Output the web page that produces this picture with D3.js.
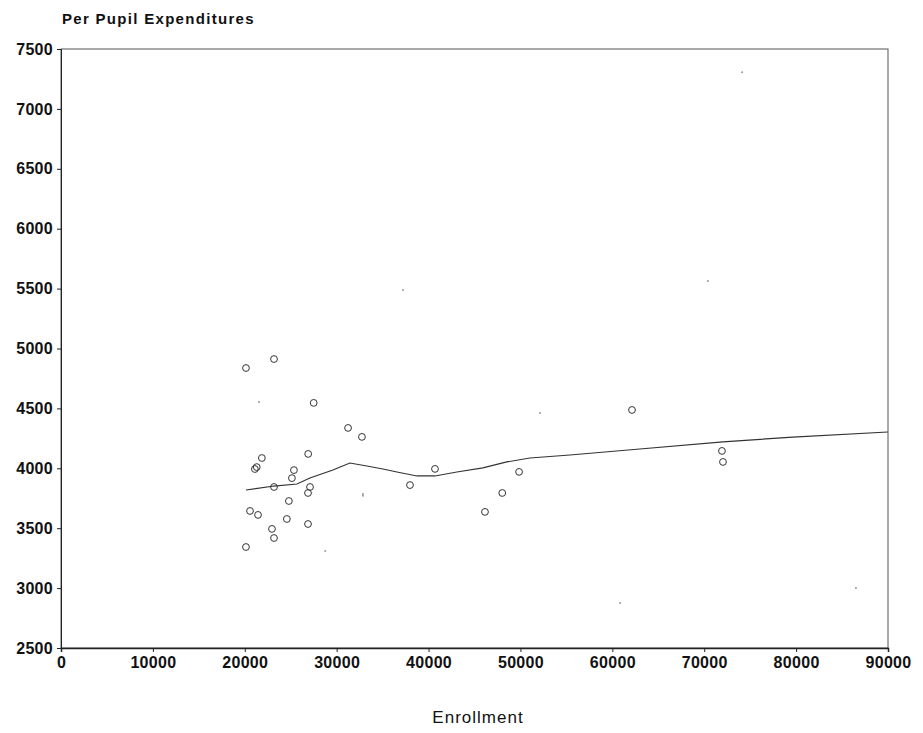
<!DOCTYPE html>
<html>
<head>
<meta charset="utf-8">
<script src="https://cdn.jsdelivr.net/npm/d3@7"></script>
<style>
  body { margin: 0; background: #fff; }
  text { font-family: "Liberation Sans", Arial, sans-serif; fill: #111; }
</style>
</head>
<body>
<div id="main"></div>
<script>
// enrollment / per pupil expenditure
const enrollment = [20130, 23180, 27500, 32750, 31240, 26900, 21860, 21100, 21300, 25350, 25130,
    23180, 27100, 26880, 24800, 20570, 21440, 24580, 26880, 22960, 23180, 20130,
    40700, 49850, 37980, 48020, 46140, 62140, 71930, 72040];
const expenditure = [4837, 4912, 4546, 4262, 4337, 4120, 4086, 3994, 4010, 3985, 3918,
    3844, 3844, 3794, 3727, 3644, 3611, 3577, 3535, 3494, 3418, 3343,
    3995, 3970, 3860, 3794, 3636, 4487, 4145, 4053];

// points that mostly faded out in the scan
const fadedEnrollment = [21550, 52130, 32860, 37210, 70400, 74120, 60850, 86510, 28750, 32860];
const fadedExpenditure = [4554, 4462, 3770, 5488, 5563, 7305, 2876, 3000, 3310, 3786];

// smoothed fit line
const fitEnrollment = [20130, 23170, 25680, 27090, 29590, 31440, 33290, 35030, 36560, 38730,
    40690, 43080, 45910, 48520, 51030, 55380, 62990, 72030, 79640, 89980];
const fitExpenditure = [3819, 3852, 3869, 3919, 3986, 4044, 4019, 3994, 3969, 3936,
    3936, 3969, 4003, 4053, 4086, 4111, 4161, 4220, 4261, 4303];

const xTicks = [0, 10000, 20000, 30000, 40000, 50000, 60000, 70000, 80000, 90000];
const yTicks = [2500, 3000, 3500, 4000, 4500, 5000, 5500, 6000, 6500, 7000, 7500];

ctx = {
    width: 923,
    height: 733,
    left: 61,
    right: 888,
    top: 49,
    bottom: 648,
    ink: "#222",
};

function createViz() {
    let svg = d3.select("#main").append("svg")
        .attr("width", ctx.width)
        .attr("height", ctx.height);

    let x = d3.scaleLinear().domain([0, 90000]).range([ctx.left, ctx.right]);
    let y = d3.scaleLinear().domain([2500, 7500]).range([ctx.bottom, ctx.top]);

    // frame
    svg.append("rect")
        .attr("x", ctx.left)
        .attr("y", ctx.top)
        .attr("width", ctx.right - ctx.left)
        .attr("height", ctx.bottom - ctx.top)
        .attr("fill", "none")
        .attr("stroke", "#555")
        .attr("stroke-width", 1);

    let xAxis = svg.append("g")
        .attr("transform", "translate(0," + ctx.bottom + ")")
        .call(d3.axisBottom(x).tickValues(xTicks).tickFormat(d3.format("d")).tickSize(4).tickPadding(5));
    xAxis.select(".domain").attr("stroke", ctx.ink).attr("stroke-width", 1.5);
    xAxis.selectAll(".tick line").attr("stroke", ctx.ink);
    xAxis.selectAll("text")
        .style("font-size", "16px")
        .style("font-weight", "bold")
        .style("letter-spacing", "0.3px");

    let yAxis = svg.append("g")
        .attr("transform", "translate(" + ctx.left + ",0)")
        .call(d3.axisLeft(y).tickValues(yTicks).tickFormat(d3.format("d")).tickSize(4).tickPadding(4));
    yAxis.select(".domain").attr("stroke", ctx.ink);
    yAxis.selectAll(".tick line").attr("stroke", ctx.ink);
    yAxis.selectAll("text")
        .style("font-size", "16px")
        .style("font-weight", "bold")
        .style("letter-spacing", "0.3px");

    // fit line
    let fit = fitEnrollment.map((e, i) => [e, fitExpenditure[i]]);
    svg.append("path")
        .datum(fit)
        .attr("fill", "none")
        .attr("stroke", "#333")
        .attr("stroke-width", 1.2)
        .attr("d", d3.line().x(d => x(d[0])).y(d => y(d[1])));

    let pts = enrollment.map((e, i) => [e, expenditure[i]]);
    svg.append("g").selectAll("circle")
        .data(pts)
        .enter().append("circle")
        .attr("cx", d => x(d[0]))
        .attr("cy", d => y(d[1]))
        .attr("r", 3.4)
        .attr("fill", "none")
        .attr("stroke", "#333")
        .attr("stroke-width", 1);

    let faded = fadedEnrollment.map((e, i) => [e, fadedExpenditure[i]]);
    svg.append("g").selectAll("circle")
        .data(faded)
        .enter().append("circle")
        .attr("cx", d => x(d[0]))
        .attr("cy", d => y(d[1]))
        .attr("r", 1)
        .attr("fill", "#999");

    svg.append("text")
        .attr("x", 62)
        .attr("y", 24)
        .style("font-size", "15px")
        .style("font-weight", "bold")
        .style("letter-spacing", "1.3px")
        .text("Per Pupil Expenditures");

    svg.append("text")
        .attr("x", 478)
        .attr("y", 723)
        .attr("text-anchor", "middle")
        .style("font-size", "17px")
        .style("letter-spacing", "1px")
        .text("Enrollment");
}

createViz();
</script>
</body>
</html>
